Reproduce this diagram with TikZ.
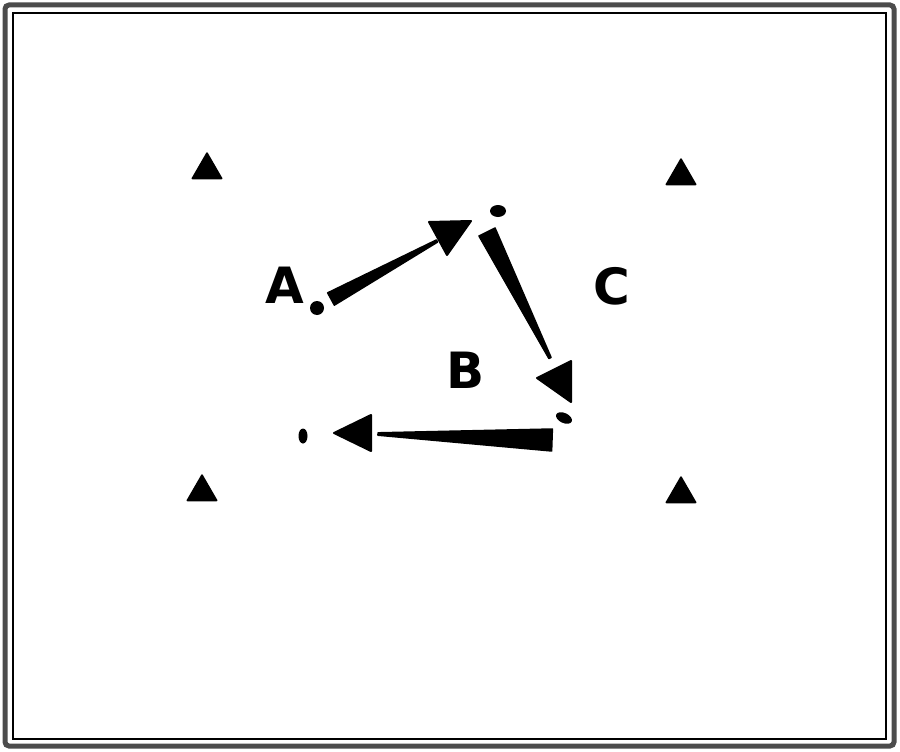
\documentclass[tikz,border=0pt]{standalone}
\usepackage{fontspec}
\setmainfont{DejaVu Sans}
\usetikzlibrary{calc}
\usetikzlibrary{shapes.geometric}
\usetikzlibrary{positioning}
\tikzset{
  Kegel/.style={regular polygon, regular polygon sides=3, fill=black, draw=black,
    line width=1.5pt, line join=round, minimum size=34pt, inner sep=0pt}, % Hütchen
  Marke/.style={font=\fontsize{50}{56}\selectfont\bfseries}, % Buchstaben
  Spitze/.style={fill=black, draw=black, line width=2pt, line join=round}, % Pfeilspitzen
  Punkt/.style={circle, fill=black, inner sep=0pt, minimum size=#1} % Punkte
}
% Keil von breitem Ende #1 zu schmalem Ende #2, halbe Breite #3
\newcommand{\keil}[3]{%
  \fill[line join=round, draw=black, line width=1.5pt]
    ($(#1)!#3!90:(#2)$) -- ($(#1)!#3!-90:(#2)$) --
    ($(#2)!1.2pt!90:(#1)$) -- ($(#2)!1.2pt!-90:(#1)$) -- cycle;}

\begin{document}
\begin{tikzpicture}[x=1pt, y=-1pt, >=latex]
\useasboundingbox (0,0) rectangle (900,752);

%Rahmen
\draw[line width=5pt, gray!60!black, rounded corners=4pt] (5,5) rectangle (894,746);
\draw[line width=1.2pt] (13,13) rectangle (886,739);

%Hütchen
\node[Kegel] (K1) at (207,170) {};
\node[Kegel] (K2) at (681,176) {};
\node[Kegel] (K3) at (202,492) {};
\node[Kegel] (K4) at (681,494) {};

%Beschriftung
\node[Marke] (A) at (285,285) {A};
\node[Marke] (B) at (466,370) {B};
\node[Marke] (C) at (612,286) {C};

%Punkte
\node[Punkt=14pt] (PA) at (317,308) {};
\node[Punkt=12pt, ellipse, minimum width=16pt] (P1) at (498,211) {};
\node[Punkt=10pt, ellipse, minimum width=17pt, rotate=-25] (P2) at (564,418) {};
\node[Punkt=9pt, minimum height=15pt, ellipse] (P3) at (303,436) {};

%Keile
\coordinate (W1a) at (331,299);
\coordinate (W1b) at (437,241);
\coordinate (W2a) at (487,232);
\coordinate (W2b) at (550,358);
\coordinate (W3a) at (552,440);
\coordinate (W3b) at (378,434);
\keil{W1a}{W1b}{7pt}
\keil{W2a}{W2b}{9pt}
\keil{W3a}{W3b}{11pt}

%Spitzen
\fill[Spitze] (429,222) -- (471,221) -- (447,255) -- cycle;
\fill[Spitze] (537,378) -- (571,361) -- (571,402) -- cycle;
\fill[Spitze] (334,433) -- (371,415) -- (371,451) -- cycle;

\end{tikzpicture}
\end{document}
